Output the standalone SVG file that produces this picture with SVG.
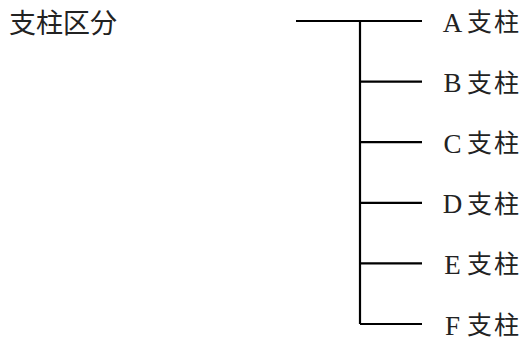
<svg xmlns="http://www.w3.org/2000/svg" width="524" height="340" viewBox="0 0 524 340">
<style>
.ln{stroke:#000;stroke-width:2.2;fill:none}
.lt{font-family:"Liberation Serif","Noto Sans CJK JP",serif;font-size:27px;fill:#222;text-anchor:middle}
.cj{font-family:"Noto Sans CJK JP",sans-serif;font-size:25px;fill:#222;letter-spacing:2px}
.tt{font-family:"Noto Sans CJK JP",sans-serif;font-size:27px;fill:#222}
</style>
<rect width="524" height="340" fill="#fff"/>
<g id="root"><text class="tt" x="9" y="33">支柱区分</text></g>
<g id="connectors">
<path class="ln" d="M296 21H422M360 21V324M360 81.6H422M360 142.2H422M360 202.8H422M360 263.4H422M360 324H422"/>
</g>
<g id="nA"><text class="lt" x="452.5" y="31.5">A</text><text class="cj" x="467" y="31">支柱</text></g>
<g id="nB"><text class="lt" x="452.5" y="92.1">B</text><text class="cj" x="467" y="91.6">支柱</text></g>
<g id="nC"><text class="lt" x="452.5" y="152.7">C</text><text class="cj" x="467" y="152.2">支柱</text></g>
<g id="nD"><text class="lt" x="452.5" y="213.3">D</text><text class="cj" x="467" y="212.8">支柱</text></g>
<g id="nE"><text class="lt" x="452.5" y="273.9">E</text><text class="cj" x="467" y="273.4">支柱</text></g>
<g id="nF"><text class="lt" x="452.5" y="334.5">F</text><text class="cj" x="467" y="334">支柱</text></g>
</svg>
